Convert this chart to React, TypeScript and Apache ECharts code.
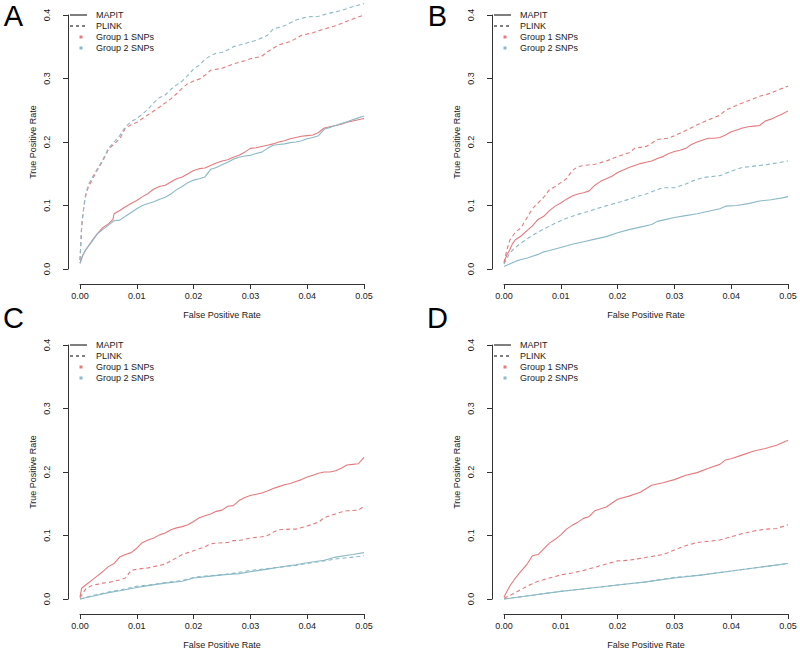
import React, { useEffect, useRef } from "react";
import * as echarts from "echarts";

// ---- data: [False Positive Rate, True Positive Rate] pairs ----
const A_MAPIT_G1 = [[0,0.009],[0.0005,0.022],[0.001,0.03],[0.002,0.043],[0.003,0.055],[0.004,0.065],[0.005,0.071],[0.0058,0.078],[0.006,0.087],[0.007,0.092],[0.008,0.098],[0.009,0.103],[0.01,0.108],[0.011,0.114],[0.012,0.119],[0.013,0.126],[0.014,0.13],[0.015,0.132],[0.016,0.137],[0.017,0.142],[0.018,0.145],[0.019,0.15],[0.02,0.155],[0.021,0.158],[0.022,0.159],[0.023,0.163],[0.024,0.167],[0.025,0.17],[0.026,0.172],[0.027,0.176],[0.028,0.179],[0.029,0.184],[0.03,0.19],[0.031,0.191],[0.032,0.193],[0.033,0.195],[0.034,0.197],[0.035,0.2],[0.036,0.202],[0.037,0.205],[0.038,0.207],[0.039,0.209],[0.04,0.21],[0.041,0.211],[0.042,0.215],[0.043,0.222],[0.044,0.224],[0.045,0.226],[0.046,0.228],[0.047,0.231],[0.048,0.233],[0.049,0.235],[0.05,0.237]];
const A_MAPIT_G2 = [[0,0.009],[0.0005,0.022],[0.001,0.03],[0.002,0.042],[0.003,0.055],[0.004,0.062],[0.005,0.069],[0.006,0.076],[0.007,0.077],[0.008,0.083],[0.009,0.089],[0.01,0.095],[0.011,0.1],[0.012,0.103],[0.013,0.106],[0.014,0.11],[0.015,0.113],[0.016,0.118],[0.017,0.125],[0.018,0.13],[0.019,0.136],[0.02,0.14],[0.021,0.142],[0.022,0.145],[0.023,0.157],[0.024,0.16],[0.025,0.164],[0.026,0.168],[0.027,0.173],[0.028,0.176],[0.029,0.178],[0.03,0.179],[0.031,0.182],[0.032,0.184],[0.033,0.19],[0.034,0.195],[0.035,0.196],[0.036,0.197],[0.037,0.199],[0.038,0.2],[0.039,0.202],[0.04,0.205],[0.041,0.207],[0.042,0.21],[0.043,0.22],[0.044,0.223],[0.045,0.226],[0.046,0.229],[0.047,0.232],[0.048,0.235],[0.049,0.238],[0.05,0.241]];
const A_PLINK_G1 = [[0,0.014],[0.0003,0.067],[0.0007,0.1],[0.001,0.115],[0.0015,0.13],[0.002,0.138],[0.003,0.155],[0.004,0.17],[0.005,0.188],[0.006,0.197],[0.007,0.205],[0.008,0.222],[0.009,0.227],[0.01,0.231],[0.012,0.243],[0.014,0.255],[0.016,0.268],[0.017,0.276],[0.018,0.285],[0.019,0.292],[0.02,0.296],[0.021,0.299],[0.022,0.305],[0.023,0.313],[0.025,0.316],[0.027,0.323],[0.029,0.328],[0.03,0.331],[0.032,0.335],[0.033,0.342],[0.035,0.353],[0.037,0.358],[0.039,0.368],[0.041,0.372],[0.043,0.378],[0.045,0.383],[0.047,0.39],[0.049,0.397],[0.05,0.4]];
const A_PLINK_G2 = [[0,0.014],[0.0003,0.07],[0.0007,0.1],[0.001,0.118],[0.0015,0.133],[0.002,0.142],[0.003,0.157],[0.004,0.172],[0.005,0.19],[0.006,0.2],[0.007,0.21],[0.008,0.224],[0.009,0.232],[0.01,0.237],[0.011,0.244],[0.012,0.252],[0.013,0.262],[0.014,0.27],[0.015,0.274],[0.016,0.283],[0.017,0.29],[0.018,0.296],[0.019,0.305],[0.02,0.315],[0.021,0.321],[0.022,0.33],[0.023,0.336],[0.024,0.34],[0.025,0.341],[0.026,0.345],[0.027,0.35],[0.029,0.355],[0.031,0.36],[0.033,0.368],[0.034,0.378],[0.036,0.383],[0.038,0.392],[0.04,0.397],[0.042,0.398],[0.044,0.403],[0.046,0.407],[0.048,0.413],[0.05,0.418]];

const B_MAPIT_G1 = [[0,0.01],[0.0005,0.022],[0.001,0.03],[0.0015,0.04],[0.002,0.046],[0.003,0.052],[0.004,0.06],[0.005,0.068],[0.006,0.078],[0.007,0.083],[0.008,0.092],[0.009,0.099],[0.01,0.104],[0.011,0.11],[0.012,0.115],[0.013,0.118],[0.014,0.12],[0.015,0.123],[0.016,0.132],[0.017,0.138],[0.018,0.142],[0.019,0.146],[0.02,0.152],[0.021,0.156],[0.022,0.16],[0.023,0.163],[0.024,0.166],[0.025,0.168],[0.026,0.17],[0.027,0.174],[0.028,0.177],[0.029,0.182],[0.03,0.185],[0.031,0.187],[0.032,0.19],[0.033,0.196],[0.034,0.2],[0.035,0.203],[0.036,0.206],[0.037,0.206],[0.038,0.207],[0.039,0.211],[0.04,0.216],[0.041,0.219],[0.042,0.222],[0.043,0.224],[0.044,0.225],[0.045,0.226],[0.046,0.233],[0.047,0.236],[0.048,0.24],[0.049,0.244],[0.05,0.249]];
const B_MAPIT_G2 = [[0,0.004],[0.001,0.008],[0.002,0.012],[0.003,0.015],[0.004,0.017],[0.005,0.02],[0.006,0.023],[0.007,0.027],[0.008,0.029],[0.01,0.034],[0.012,0.039],[0.014,0.043],[0.016,0.047],[0.018,0.051],[0.02,0.057],[0.022,0.062],[0.024,0.066],[0.026,0.07],[0.027,0.075],[0.028,0.077],[0.03,0.081],[0.032,0.084],[0.034,0.087],[0.036,0.091],[0.038,0.095],[0.039,0.099],[0.041,0.1],[0.043,0.103],[0.045,0.107],[0.047,0.109],[0.049,0.112],[0.05,0.114]];
const B_PLINK_G1 = [[0,0.01],[0.0005,0.03],[0.001,0.045],[0.002,0.058],[0.003,0.065],[0.004,0.08],[0.005,0.095],[0.006,0.104],[0.007,0.113],[0.008,0.125],[0.009,0.13],[0.01,0.136],[0.011,0.142],[0.012,0.155],[0.013,0.161],[0.014,0.163],[0.016,0.165],[0.018,0.17],[0.02,0.177],[0.022,0.183],[0.023,0.19],[0.025,0.193],[0.026,0.198],[0.027,0.204],[0.029,0.206],[0.03,0.21],[0.032,0.218],[0.034,0.227],[0.036,0.235],[0.038,0.242],[0.039,0.25],[0.041,0.258],[0.043,0.265],[0.045,0.272],[0.047,0.277],[0.048,0.281],[0.05,0.288]];
const B_PLINK_G2 = [[0,0.008],[0.001,0.025],[0.002,0.034],[0.003,0.041],[0.004,0.047],[0.005,0.053],[0.007,0.063],[0.009,0.072],[0.011,0.08],[0.013,0.086],[0.015,0.091],[0.017,0.097],[0.019,0.102],[0.021,0.107],[0.023,0.113],[0.025,0.118],[0.027,0.125],[0.028,0.128],[0.03,0.128],[0.032,0.134],[0.033,0.138],[0.035,0.144],[0.037,0.146],[0.038,0.147],[0.04,0.154],[0.042,0.16],[0.044,0.162],[0.046,0.164],[0.048,0.167],[0.05,0.17]];

const C_MAPIT_G1 = [[0,0.003],[0.0003,0.017],[0.001,0.022],[0.002,0.029],[0.003,0.036],[0.004,0.043],[0.005,0.051],[0.006,0.056],[0.007,0.066],[0.008,0.07],[0.009,0.073],[0.01,0.08],[0.011,0.089],[0.012,0.093],[0.013,0.096],[0.014,0.101],[0.015,0.104],[0.016,0.109],[0.017,0.112],[0.018,0.114],[0.019,0.117],[0.02,0.122],[0.021,0.128],[0.022,0.131],[0.023,0.134],[0.024,0.138],[0.025,0.14],[0.026,0.146],[0.027,0.147],[0.028,0.155],[0.029,0.16],[0.03,0.163],[0.031,0.165],[0.032,0.167],[0.033,0.17],[0.034,0.174],[0.035,0.177],[0.036,0.18],[0.037,0.182],[0.038,0.185],[0.039,0.188],[0.04,0.192],[0.041,0.195],[0.042,0.198],[0.043,0.2],[0.044,0.2],[0.045,0.202],[0.046,0.206],[0.047,0.211],[0.048,0.212],[0.049,0.213],[0.05,0.223]];
const C_MAPIT_G2 = [[0,0],[0.002,0.004],[0.004,0.008],[0.005,0.01],[0.007,0.013],[0.01,0.018],[0.012,0.021],[0.015,0.025],[0.018,0.028],[0.02,0.033],[0.023,0.036],[0.025,0.038],[0.028,0.04],[0.03,0.043],[0.033,0.047],[0.035,0.05],[0.038,0.054],[0.04,0.057],[0.043,0.061],[0.045,0.066],[0.048,0.07],[0.05,0.073]];
const C_PLINK_G1 = [[0,0.002],[0.001,0.016],[0.002,0.021],[0.003,0.023],[0.004,0.025],[0.005,0.026],[0.006,0.028],[0.007,0.03],[0.008,0.033],[0.009,0.045],[0.01,0.047],[0.012,0.049],[0.014,0.053],[0.015,0.055],[0.016,0.06],[0.017,0.065],[0.018,0.07],[0.019,0.073],[0.02,0.076],[0.022,0.082],[0.023,0.087],[0.024,0.088],[0.026,0.089],[0.027,0.092],[0.028,0.092],[0.03,0.096],[0.032,0.098],[0.033,0.1],[0.034,0.105],[0.035,0.109],[0.037,0.11],[0.038,0.11],[0.04,0.115],[0.041,0.118],[0.042,0.121],[0.043,0.128],[0.044,0.131],[0.045,0.134],[0.046,0.137],[0.047,0.139],[0.049,0.14],[0.05,0.146]];
const C_PLINK_G2 = [[0,0],[0.002,0.005],[0.005,0.011],[0.008,0.016],[0.01,0.02],[0.013,0.023],[0.015,0.026],[0.018,0.029],[0.02,0.034],[0.023,0.037],[0.025,0.038],[0.028,0.042],[0.03,0.045],[0.033,0.048],[0.035,0.05],[0.038,0.053],[0.04,0.056],[0.043,0.06],[0.045,0.063],[0.048,0.066],[0.05,0.068]];

const D_MAPIT_G1 = [[0,0.003],[0.001,0.02],[0.002,0.033],[0.003,0.044],[0.004,0.054],[0.005,0.068],[0.006,0.07],[0.007,0.079],[0.008,0.088],[0.009,0.094],[0.01,0.101],[0.011,0.11],[0.012,0.116],[0.013,0.121],[0.014,0.127],[0.015,0.13],[0.016,0.139],[0.018,0.145],[0.02,0.157],[0.022,0.162],[0.024,0.168],[0.026,0.179],[0.028,0.183],[0.03,0.188],[0.032,0.195],[0.034,0.199],[0.036,0.206],[0.038,0.212],[0.039,0.219],[0.04,0.221],[0.042,0.227],[0.044,0.233],[0.046,0.237],[0.048,0.242],[0.05,0.25]];
const D_MAPIT_G2 = [[0,0],[0.005,0.006],[0.01,0.012],[0.015,0.017],[0.02,0.022],[0.025,0.027],[0.03,0.033],[0.035,0.038],[0.04,0.044],[0.045,0.05],[0.05,0.056]];
const D_PLINK_G1 = [[0,0.001],[0.002,0.01],[0.004,0.02],[0.006,0.028],[0.008,0.033],[0.01,0.038],[0.012,0.041],[0.014,0.045],[0.016,0.05],[0.018,0.055],[0.02,0.06],[0.022,0.061],[0.024,0.064],[0.026,0.067],[0.028,0.07],[0.03,0.077],[0.032,0.084],[0.034,0.089],[0.036,0.091],[0.038,0.093],[0.04,0.098],[0.042,0.103],[0.044,0.107],[0.046,0.11],[0.048,0.111],[0.05,0.117]];
const D_PLINK_G2 = [[0,0],[0.005,0.006],[0.01,0.012],[0.015,0.017],[0.02,0.022],[0.025,0.027],[0.03,0.034],[0.035,0.038],[0.04,0.044],[0.045,0.05],[0.05,0.056]];

const PANEL_LETTERS = ["A", "B", "C", "D"];
const PANELS = [
  { g1m: A_MAPIT_G1, g2m: A_MAPIT_G2, g1p: A_PLINK_G1, g2p: A_PLINK_G2 },
  { g1m: B_MAPIT_G1, g2m: B_MAPIT_G2, g1p: B_PLINK_G1, g2p: B_PLINK_G2 },
  { g1m: C_MAPIT_G1, g2m: C_MAPIT_G2, g1p: C_PLINK_G1, g2p: C_PLINK_G2 },
  { g1m: D_MAPIT_G1, g2m: D_MAPIT_G2, g1p: D_PLINK_G1, g2p: D_PLINK_G2 },
];
const LEGEND_LABELS = ["MAPIT", "PLINK", "Group 1 SNPs", "Group 2 SNPs"];
const X_NAME = "False Positive Rate";
const Y_NAME = "True Positive Rate";

const RED = "#E57A7E";
const BLUE = "#8BB9C5";
const AXIS = "#333";
const TEXT = "#1a1a1a";
const FONT = "Liberation Sans, Arial, Helvetica, sans-serif";

const GRID_LEFT = [80, 504, 80, 504];
const GRID_TOP = [15, 15, 345, 345];
const GRID_W = 284;
const GRID_H = 254;
const LETTER_TOP = [1, 1, 303, 303];

export default function App() {
  const ref = useRef<HTMLDivElement>(null);
  useEffect(() => {
    if (!ref.current) return;
    const chart = echarts.init(ref.current, undefined, { renderer: "svg" });
    const grids: any[] = [];
    const xAxes: any[] = [];
    const yAxes: any[] = [];
    const series: any[] = [];
    const graphic: any[] = [];
    PANELS.forEach((p, i) => {
      grids.push({ left: GRID_LEFT[i], top: GRID_TOP[i], width: GRID_W, height: GRID_H });
      xAxes.push({
        type: "value", gridIndex: i, min: 0, max: 0.05, interval: 0.01, offset: 15,
        axisLine: { show: true, onZero: false, lineStyle: { color: AXIS, width: 1 } },
        axisTick: { show: true, length: 5, lineStyle: { color: AXIS } },
        axisLabel: { formatter: (v: number) => v.toFixed(2), fontSize: 9, color: TEXT, fontFamily: FONT, margin: 7 },
        splitLine: { show: false },
        name: X_NAME, nameLocation: "middle", nameGap: 26,
        nameTextStyle: { fontSize: 9, color: TEXT, fontFamily: FONT },
      });
      yAxes.push({
        type: "value", gridIndex: i, min: 0, max: 0.4, interval: 0.1, offset: 12,
        axisLine: { show: true, onZero: false, lineStyle: { color: AXIS, width: 1 } },
        axisTick: { show: true, length: 5, lineStyle: { color: AXIS } },
        axisLabel: {
          formatter: (v: number) => v.toFixed(1), fontSize: 9, color: TEXT, fontFamily: FONT,
          rotate: 90, margin: 17,
        },
        splitLine: { show: false },
        name: Y_NAME, nameLocation: "middle", nameGap: 31,
        nameTextStyle: { fontSize: 9, color: TEXT, fontFamily: FONT },
      });
      const mk = (data: number[][], color: string, dashed: boolean) => ({
        type: "line", xAxisIndex: i, yAxisIndex: i, data, showSymbol: false, symbol: "none",
        clip: false,
        lineStyle: { color, width: 1.1, type: dashed ? [4, 3] : "solid" },
        silent: true,
      });
      series.push(mk(p.g1p, RED, true), mk(p.g2p, BLUE, true), mk(p.g1m, RED, false), mk(p.g2m, BLUE, false));

      // panel letter
      const dx = GRID_LEFT[i] - 80;
      const dy = GRID_TOP[i] - 15;
      graphic.push({
        type: "text", x: dx + 13.5, y: LETTER_TOP[i],
        style: { text: PANEL_LETTERS[i], fontSize: 29, fontFamily: FONT, fill: "#000", align: "center", verticalAlign: "top" },
      });
      // legend
      const lx1 = dx + 70, lx2 = dx + 87, tx = dx + 96;
      const rows = [15, 26, 37, 48].map((r) => r + dy);
      graphic.push({ type: "line", shape: { x1: lx1, y1: rows[0], x2: lx2, y2: rows[0] }, style: { stroke: "#000", lineWidth: 1 } });
      graphic.push({ type: "line", shape: { x1: lx1, y1: rows[1], x2: lx2, y2: rows[1] }, style: { stroke: "#000", lineWidth: 1, lineDash: [3, 3] } });
      graphic.push({ type: "rect", shape: { x: dx + 79.5, y: rows[2] - 1.5, width: 3, height: 3 }, style: { fill: RED } });
      graphic.push({ type: "rect", shape: { x: dx + 79.5, y: rows[3] - 1.5, width: 3, height: 3 }, style: { fill: BLUE } });
      LEGEND_LABELS.forEach((t, k) => {
        graphic.push({
          type: "text", x: tx, y: rows[k],
          style: { text: t, fontSize: 9, fontFamily: FONT, fill: TEXT, align: "left", verticalAlign: "middle" },
        });
      });
    });
    chart.setOption({
      animation: false,
      backgroundColor: "#fff",
      grid: grids,
      xAxis: xAxes,
      yAxis: yAxes,
      series,
      graphic,
    });
    return () => chart.dispose();
  }, []);
  return <div ref={ref} style={{ position: "fixed", left: 0, top: 0, width: 800, height: 653 }} />;
}
